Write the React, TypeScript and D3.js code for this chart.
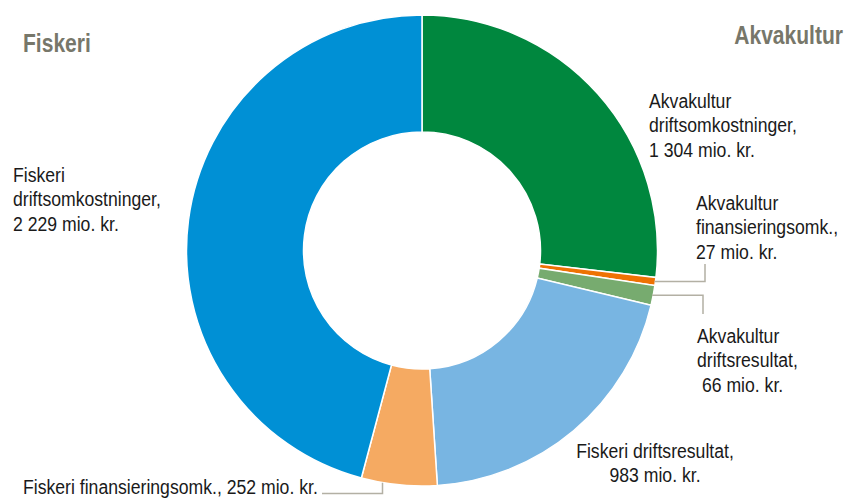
import React, { useRef, useEffect } from "react";
import * as d3 from "d3";

// slices, clockwise from 12 o'clock
const names = [
  "Akvakultur driftsomkostninger",
  "Akvakultur finansieringsomk.",
  "Akvakultur driftsresultat",
  "Fiskeri driftsresultat",
  "Fiskeri finansieringsomk.",
  "Fiskeri driftsomkostninger",
];
const values = [1304, 27, 66, 983, 252, 2229];
const colors = ["#00873e", "#ee7203", "#77ab6f", "#78b5e2", "#f5aa62", "#0090d5"];

// label text lines per slice
const labelLines = [
  ["Akvakultur", "driftsomkostninger,", "1 304 mio. kr."],
  ["Akvakultur", "finansieringsomk.,", "27 mio. kr."],
  ["Akvakultur", "driftsresultat,", " 66 mio. kr."],
  ["Fiskeri driftsresultat,", "983 mio. kr."],
  ["Fiskeri finansieringsomk., 252 mio. kr."],
  ["Fiskeri", "driftsomkostninger,", "2 229 mio. kr."],
];

const W = 849;
const H = 499;
const FONT = "'Liberation Sans', Arial, sans-serif";
const NARROW_TITLE = 0.81; // horizontal squeeze to mimic a narrow face
const NARROW_LABEL = 0.84;

export default function App() {
  const svgRef = useRef<SVGSVGElement>(null);

  useEffect(() => {
    const svg = d3.select(svgRef.current);
    svg.selectAll("*").remove();

    const cx = 422;
    const cy = 250.5;
    const outerR = 235.5;
    const innerR = 118.5;

    const pie = d3.pie<number>().sort(null).value((d) => d);
    const arcs = pie(values);
    const arc = d3.arc<d3.PieArcDatum<number>>().innerRadius(innerR).outerRadius(outerR);

    const g = svg.append("g").attr("transform", `translate(${cx},${cy})`);

    g.selectAll("path.slice")
      .data(arcs)
      .enter()
      .append("path")
      .attr("class", "slice")
      .attr("d", arc)
      .attr("fill", (_, i) => colors[i])
      .attr("stroke", "#fff")
      .attr("stroke-width", 1.5)
      .append("title")
      .text((_, i) => names[i]);

    // point on outer edge at fraction t through slice i
    const edge = (i: number, t: number, r = outerR) => {
      const a = arcs[i].startAngle + (arcs[i].endAngle - arcs[i].startAngle) * t;
      return [cx + r * Math.sin(a), cy - r * Math.cos(a)];
    };

    // leader lines
    const leaders: { i: number; t: number; route: (p: number[]) => number[][] }[] = [
      { i: 1, t: 0.5, route: (p) => [p, [705, p[1]], [705, 264]] },
      { i: 2, t: 0.5, route: (p) => [p, [703, p[1]], [703, 314]] },
      { i: 4, t: 0.72, route: (p) => [[p[0], p[1] + 1], [p[0], 493.5], [322, 493.5]] },
    ];
    const line = d3.line();
    leaders.forEach((l) => {
      const p = edge(l.i, l.t, outerR - 1);
      svg
        .append("path")
        .attr("d", line(l.route(p) as [number, number][]))
        .attr("fill", "none")
        .attr("stroke", "#b3b0a4")
        .attr("stroke-width", 1.5);
    });

    // labels (layout positions)
    const labelPos = [
      { x: 649, y: 108, anchor: "start" },
      { x: 696, y: 210, anchor: "start" },
      { x: 697, y: 343, anchor: "start" },
      { x: 655, y: 458, anchor: "middle" },
      { x: 23, y: 494, anchor: "start" },
      { x: 13, y: 182, anchor: "start" },
    ];
    labelLines.forEach((lines, i) => {
      const pos = labelPos[i];
      const t = svg
        .append("g")
        .attr("transform", `translate(${pos.x},${pos.y}) scale(${NARROW_LABEL},1)`)
        .append("text")
        .attr("text-anchor", pos.anchor)
        .attr("font-family", FONT)
        .attr("font-size", 21)
        .attr("fill", "#1a1a1a")
        .style("white-space", "pre");
      lines.forEach((s, j) => {
        t.append("tspan")
          .attr("x", 0)
          .attr("dy", j === 0 ? 0 : 24.5)
          .text(s);
      });
    });

    // group titles
    const title = (txt: string, x: number, y: number, anchor: string) =>
      svg
        .append("g")
        .attr("transform", `translate(${x},${y}) scale(${NARROW_TITLE},1)`)
        .append("text")
        .attr("text-anchor", anchor)
        .attr("font-family", FONT)
        .attr("font-size", 26)
        .attr("font-weight", "bold")
        .attr("fill", "#77776a")
        .text(txt);
    title("Fiskeri", 23, 52, "start");
    title("Akvakultur", 843, 44, "end");
  }, []);

  return (
    <svg
      ref={svgRef}
      width={W}
      height={H}
      style={{ position: "absolute", left: 0, top: 0, background: "#fff" }}
    />
  );
}
